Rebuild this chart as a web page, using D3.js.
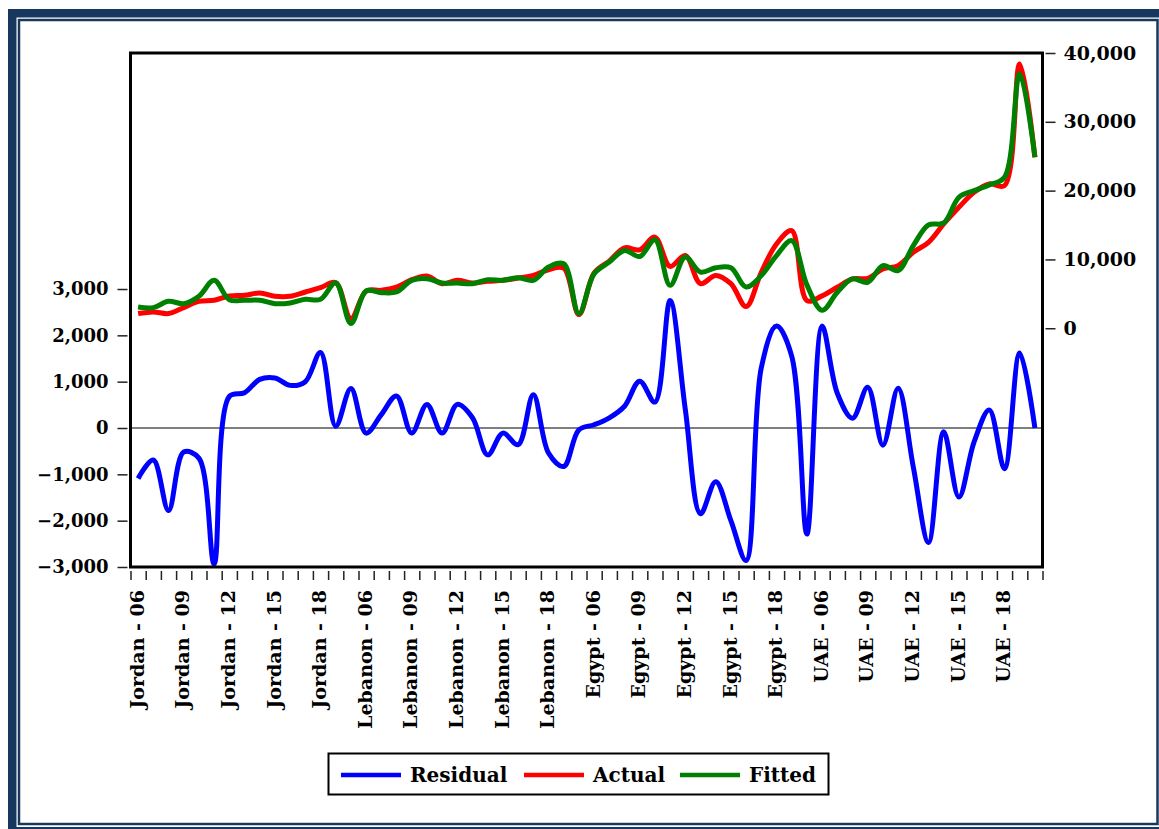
<!DOCTYPE html>
<html>
<head>
<meta charset="utf-8">
<script src="https://cdn.jsdelivr.net/npm/d3@7"></script>
<style>
  html, body { margin: 0; padding: 0; background: #fff; }
  svg { display: block; }
  text { font-family: "DejaVu Serif", "Liberation Serif", serif; font-weight: bold; fill: #000; }
</style>
</head>
<body>
<svg id="chart" width="1159" height="829"></svg>
<script>
// ---------------- DATA ----------------
const countries = ["Jordan", "Lebanon", "Egypt", "UAE"];
const years = ["06","07","08","09","10","11","12","13","14","15","16","17","18","19","20"];
const labelYears = ["06","09","12","15","18"];

const residual = [
  -1090, -690, -1780, -520, -650, -2930, 680, 760, 1050, 1080, 920, 1000, 1630, 40, 850,
  -110, 290, 690, -110, 510, -110, 510, 220, -580, -110, -360, 720, -540, -830, -40,
  70, 220, 470, 1010, 560, 2750, 400, -1850, -1160, -2000, -2860, 1300, 2200, 1550, -2290,
  2200, 750, 210, 880, -370, 860, -840, -2470, -80, -1490, -300, 390, -880, 1620, 0
];
const actual = [
  2130, 2370, 2130, 3000, 3900, 4060, 4690, 4780, 5120, 4640, 4640, 5270, 5900, 6620, 1400,
  5410, 5510, 5990, 7050, 7580, 6470, 6960, 6570, 6810, 6960, 7290, 7680, 8500, 8740, 1980,
  8020, 9760, 11690, 11400, 13240, 8990, 10580, 6470, 7680, 6470, 3150, 8140, 12250, 14190, 4020,
  4700, 5960, 7170, 7260, 8620, 9100, 11040, 12490, 15160, 17580, 19760, 20970, 20730, 38400, 24840
];
const fitted = [
  3090, 3000, 3910, 3570, 4640, 6960, 4150, 4060, 4060, 3570, 3670, 4200, 4200, 6620, 680,
  5410, 5170, 5270, 6960, 7200, 6570, 6570, 6470, 7050, 6960, 7340, 6960, 8890, 9370, 2130,
  7920, 9610, 11300, 10430, 12850, 6230, 10340, 8160, 8790, 8790, 6000, 7650, 10560, 12740, 6300,
  2600, 5230, 7170, 6680, 9100, 8380, 12010, 15010, 15300, 19030, 20000, 20820, 21940, 36950, 24840
];
const leftTicks = [-3000, -2000, -1000, 0, 1000, 2000, 3000];
const rightTicks = [0, 10000, 20000, 30000, 40000];
const seriesNames = ["Residual", "Actual", "Fitted"];
const seriesColors = ["#0000ff", "#ff0000", "#008000"];

// categories built from the country / year lists
const categories = [];
countries.forEach(c => years.forEach(y => categories.push(c + " - " + y)));

// ---------------- LAYOUT ----------------
const svg = d3.select("#chart");
const W = 1159, H = 829;
const plot = { left: 130.5, right: 1042.5, top: 53, bottom: 567 };
const navy = "#17375e";

// page frame
svg.append("rect").attr("x", 8).attr("y", 9).attr("width", W + 20).attr("height", H + 20)
  .attr("fill", navy);
svg.append("rect").attr("x", 16.5).attr("y", 17.5).attr("width", W + 20).attr("height", 809.5)
  .attr("fill", "#fff");
svg.append("rect").attr("x", 19).attr("y", 20).attr("width", 1138.5).attr("height", 804)
  .attr("fill", "#fff").attr("stroke", navy).attr("stroke-width", 2.5);

// scales
const x = d3.scaleBand().domain(categories).range([plot.left, plot.right]).padding(0);
const xc = d => x(d) + x.bandwidth() / 2;
const xIdx = d3.scaleLinear().domain([0, categories.length]).range([plot.left, plot.right]);
const yL = d3.scaleLinear().domain([-3000, 8094]).range([plot.bottom, plot.top]);
const yR = d3.scaleLinear().domain([-34700, 40000]).range([plot.bottom, plot.top]);

// zero line for residuals
svg.append("line")
  .attr("x1", plot.left).attr("x2", plot.right)
  .attr("y1", yL(0)).attr("y2", yL(0))
  .attr("stroke", "#000").attr("stroke-width", 1.2);

// lines
const curve = d3.curveCatmullRom.alpha(0.5);
const lineL = d3.line().x((d, i) => xc(categories[i])).y(d => yL(d)).curve(curve);
const lineR = d3.line().x((d, i) => xc(categories[i])).y(d => yR(d)).curve(curve);

svg.append("path").datum(residual).attr("d", lineL)
  .attr("fill", "none").attr("stroke", seriesColors[0]).attr("stroke-width", 5)
  .attr("stroke-linejoin", "round").attr("stroke-linecap", "butt");
svg.append("path").datum(actual).attr("d", lineR)
  .attr("fill", "none").attr("stroke", seriesColors[1]).attr("stroke-width", 5)
  .attr("stroke-linejoin", "round");
svg.append("path").datum(fitted).attr("d", lineR)
  .attr("fill", "none").attr("stroke", seriesColors[2]).attr("stroke-width", 5)
  .attr("stroke-linejoin", "round");

// plot frame
svg.append("rect")
  .attr("x", plot.left).attr("y", plot.top)
  .attr("width", plot.right - plot.left).attr("height", plot.bottom - plot.top)
  .attr("fill", "none").attr("stroke", "#000").attr("stroke-width", 3);

// left axis
const axL = svg.append("g").attr("transform", `translate(${plot.left - 3},0)`)
  .call(d3.axisLeft(yL).tickValues(leftTicks).tickFormat(d3.format(",")).tickSize(10).tickPadding(9));
axL.select(".domain").remove();
axL.selectAll(".tick line").attr("stroke", "#222").attr("stroke-width", 1.5);
axL.selectAll(".tick text").style("font-size", "18px").style("font-family", "DejaVu Serif").style("font-weight", "bold");

// right axis
const axR = svg.append("g").attr("transform", `translate(${plot.right + 3},0)`)
  .call(d3.axisRight(yR).tickValues(rightTicks).tickFormat(d3.format(",")).tickSize(10).tickPadding(8));
axR.select(".domain").remove();
axR.selectAll(".tick line").attr("stroke", "#222").attr("stroke-width", 1.5);
axR.selectAll(".tick text").style("font-size", "19px").style("font-family", "DejaVu Serif").style("font-weight", "bold");

// bottom ticks at category boundaries
const axB = svg.append("g").attr("transform", `translate(0,${plot.bottom + 4})`)
  .call(d3.axisBottom(xIdx).tickValues(d3.range(categories.length + 1)).tickFormat("").tickSize(9));
axB.select(".domain").remove();
axB.selectAll(".tick line").attr("stroke", "#222").attr("stroke-width", 1.5);

// category labels (every third year)
const shown = categories.filter(c => labelYears.includes(c.split(" - ")[1]));
svg.append("g").selectAll("text").data(shown).join("text")
  .attr("transform", d => `translate(${xc(d) - 1},590) rotate(-90)`)
  .attr("text-anchor", "end")
  .attr("dy", "0.35em")
  .style("font-size", "19px")
  .text(d => d);

// legend
const lg = svg.append("g");
lg.append("rect").attr("x", 328.5).attr("y", 753.5).attr("width", 500).attr("height", 41)
  .attr("fill", "#fff").attr("stroke", "#000").attr("stroke-width", 2);
const legX = [341, 524, 680];
seriesNames.forEach((n, i) => {
  lg.append("line").attr("x1", legX[i]).attr("x2", legX[i] + 60)
    .attr("y1", 775).attr("y2", 775)
    .attr("stroke", seriesColors[i]).attr("stroke-width", 4.5);
  lg.append("text").attr("x", legX[i] + 69).attr("y", 775).attr("dy", "0.35em")
    .style("font-size", "20px").text(n);
});
</script>
</body>
</html>
